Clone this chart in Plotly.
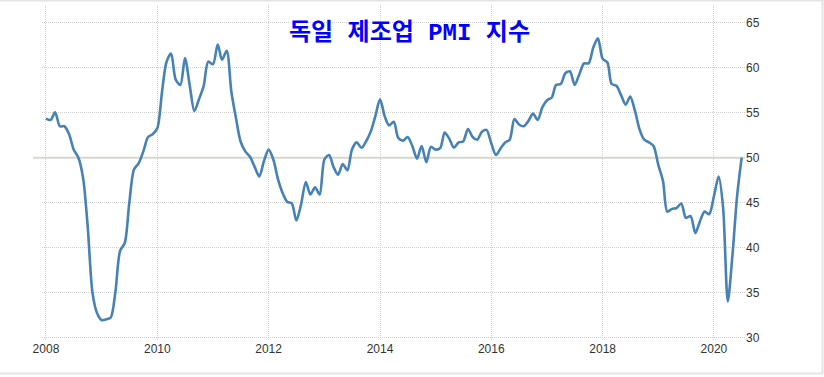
import plotly.graph_objects as go
import pandas as pd

# Monthly dates Jan 2008 - Jul 2020
months = pd.date_range("2008-01-01", "2020-07-01", freq="MS").strftime("%Y-%m-%d").tolist()

pmi = [
    # 2008
    54.35, 54.2, 55.05, 53.5, 53.5, 52.6, 50.9, 50.0, 47.7, 42.3, 35.0, 32.7,
    # 2009
    31.9, 32.0, 32.2, 35.1, 39.6, 40.5, 45.0, 48.7, 49.4, 50.7, 52.3, 52.6,
    # 2010
    53.3, 57.4, 60.6, 61.6, 58.7, 58.1, 61.1, 58.1, 55.2, 56.5, 58.0, 60.7,
    # 2011
    60.4, 62.6, 60.9, 61.9, 57.4, 54.4, 51.8, 50.7, 50.1, 49.0, 47.9, 49.6,
    # 2012
    50.9, 49.8, 47.7, 46.1, 45.1, 44.9, 43.0, 44.8, 47.3, 45.9, 46.7, 45.9,
    # 2013
    49.8, 50.3, 49.0, 48.1, 49.3, 48.6, 50.9, 51.7, 51.1, 51.8, 52.9, 54.6,
    # 2014
    56.5, 54.6, 53.6, 54.0, 52.2, 51.9, 52.3, 51.3, 49.9, 51.3, 49.5, 51.2,
    # 2015
    50.9, 51.1, 52.8, 52.1, 51.1, 51.7, 51.8, 53.2, 52.3, 52.0, 52.9, 53.1,
    # 2016
    51.6, 50.3, 51.0, 51.7, 52.0, 54.3, 53.7, 53.5, 54.1, 54.9, 54.2, 55.6,
    # 2017
    56.4, 56.7, 58.1, 58.2, 59.4, 59.6, 58.1, 59.3, 60.5, 60.5, 62.3, 63.3,
    # 2018
    61.0, 60.6, 58.2, 58.0, 57.0, 55.9, 56.8, 55.2, 53.1, 52.0, 51.7, 51.3,
    # 2019
    49.2, 47.4, 44.0, 44.3, 44.4, 44.9, 43.3, 43.5, 41.6, 42.9, 44.0, 43.7,
    # 2020
    45.7, 47.9, 44.5, 34.0, 39.0, 45.7, 50.0,
]

x_tick_vals = ["2008-01-01", "2010-01-01", "2012-01-01", "2014-01-01",
               "2016-01-01", "2018-01-01", "2020-01-01"]
x_tick_text = ["2008", "2010", "2012", "2014", "2016", "2018", "2020"]
y_tick_vals = [30, 35, 40, 45, 50, 55, 60, 65]
title_text = "독일 제조업 PMI 지수"

fig = go.Figure()
fig.add_trace(go.Scatter(
    x=months, y=pmi, mode="lines",
    line=dict(color="#4682b4", width=2.6, shape="spline", smoothing=0.8),
    hoverinfo="skip", showlegend=False,
))

L, R, T, B = 42, 79, 5, 37
W, H = 824, 377
pw, ph = W - L - R, H - T - B

def px_x(p):
    return (p - L) / pw

def px_y(p):
    return (H - B - p) / ph

# 50 reference line
fig.add_shape(type="line", xref="paper", yref="y", x0=px_x(33), x1=1, y0=50, y1=50,
              line=dict(color="#d9d9cc", width=2), layer="below")

# light frame lines
for x0, y0, x1, y1 in [(0, 0.5, 823.5, 0.5), (822.5, 0, 822.5, 374), (0, 373.5, 823, 373.5)]:
    fig.add_shape(type="line", xref="paper", yref="paper",
                  x0=px_x(x0), x1=px_x(x1), y0=px_y(y0), y1=px_y(y1),
                  line=dict(color="#e4e4e4", width=2))

fig.add_annotation(
    text=f"<b>{title_text}</b>", xref="paper", yref="paper",
    x=px_x(410), y=px_y(33), xanchor="center", yanchor="middle", showarrow=False,
    font=dict(family="Liberation Mono, Noto Sans CJK KR", size=24, color="#0000ff"),
)

grid_style = dict(showgrid=True, gridcolor="#d0d0d0", griddash="1px,1px", gridwidth=1,
                  showline=False, zeroline=False, ticks="",
                  tickfont=dict(size=12, color="#333333"))

fig.update_layout(
    width=W, height=H,
    margin=dict(l=L, r=R, t=T, b=B),
    paper_bgcolor="white", plot_bgcolor="white",
    font=dict(family="Liberation Sans, Arial", size=12, color="#333333"),
    xaxis=dict(type="date", range=["2007-12-06", "2020-07-23"],
               tickvals=x_tick_vals, ticktext=x_tick_text, **grid_style),
    yaxis=dict(side="right", range=[29.7, 67.0], tickvals=y_tick_vals, **grid_style),
)

fig.write_html(
    "out.html",
    config={"displayModeBar": False, "staticPlot": True},
    post_script="document.body.style.margin='0';document.body.style.padding='0';",
)
